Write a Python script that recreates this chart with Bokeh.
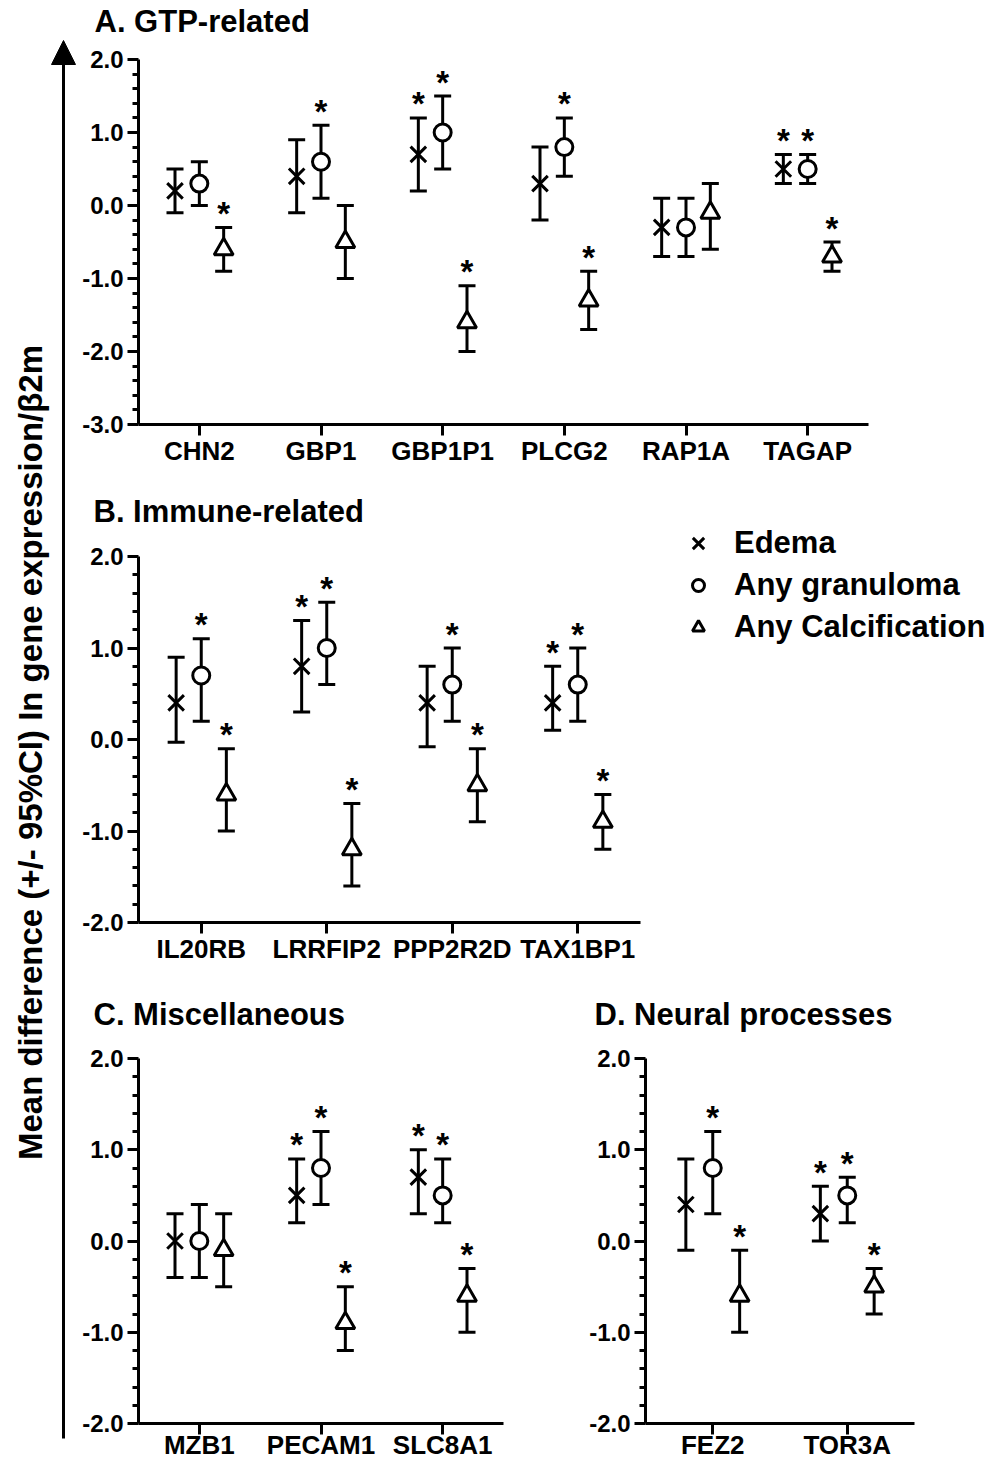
import math
from bokeh.plotting import figure
from bokeh.models import (ColumnDataSource, Whisker, TeeHead, FixedTicker, Range1d,
                          Label, Legend, LegendItem, Arrow, NormalHead, NumeralTickFormatter)
from bokeh.layouts import row, column
from bokeh.embed import file_html
from bokeh.resources import INLINE
from bokeh.core.properties import value

FONT = "Liberation Sans"

# ---------------- data ----------------
series_names = ["Edema", "Any granuloma", "Any Calcification"]

A_genes = ["CHN2", "GBP1", "GBP1P1", "PLCG2", "RAP1A", "TAGAP"]
A_edema_mean = [0.2, 0.4, 0.7, 0.3, -0.3, 0.5]
A_edema_lo = [-0.1, -0.1, 0.2, -0.2, -0.7, 0.3]
A_edema_hi = [0.5, 0.9, 1.2, 0.8, 0.1, 0.7]
A_edema_sig = [0, 0, 1, 0, 0, 1]
A_gran_mean = [0.3, 0.6, 1.0, 0.8, -0.3, 0.5]
A_gran_lo = [0.0, 0.1, 0.5, 0.4, -0.7, 0.3]
A_gran_hi = [0.6, 1.1, 1.5, 1.2, 0.1, 0.7]
A_gran_sig = [0, 1, 1, 1, 0, 1]
A_calc_mean = [-0.6, -0.5, -1.6, -1.3, -0.1, -0.7]
A_calc_lo = [-0.9, -1.0, -2.0, -1.7, -0.6, -0.9]
A_calc_hi = [-0.3, 0.0, -1.1, -0.9, 0.3, -0.5]
A_calc_sig = [1, 0, 1, 1, 0, 1]

B_genes = ["IL20RB", "LRRFIP2", "PPP2R2D", "TAX1BP1"]
B_edema_mean = [0.4, 0.8, 0.4, 0.4]
B_edema_lo = [-0.03, 0.3, -0.08, 0.1]
B_edema_hi = [0.9, 1.3, 0.8, 0.8]
B_edema_sig = [0, 1, 0, 1]
B_gran_mean = [0.7, 1.0, 0.6, 0.6]
B_gran_lo = [0.2, 0.6, 0.2, 0.2]
B_gran_hi = [1.1, 1.5, 1.0, 1.0]
B_gran_sig = [1, 1, 1, 1]
B_calc_mean = [-0.6, -1.2, -0.5, -0.9]
B_calc_lo = [-1.0, -1.6, -0.9, -1.2]
B_calc_hi = [-0.1, -0.7, -0.1, -0.6]
B_calc_sig = [1, 1, 1, 1]

C_genes = ["MZB1", "PECAM1", "SLC8A1"]
C_edema_mean = [0.0, 0.5, 0.7]
C_edema_lo = [-0.4, 0.2, 0.3]
C_edema_hi = [0.3, 0.9, 1.0]
C_edema_sig = [0, 1, 1]
C_gran_mean = [0.0, 0.8, 0.5]
C_gran_lo = [-0.4, 0.4, 0.2]
C_gran_hi = [0.4, 1.2, 0.9]
C_gran_sig = [0, 1, 1]
C_calc_mean = [-0.1, -0.9, -0.6]
C_calc_lo = [-0.5, -1.2, -1.0]
C_calc_hi = [0.3, -0.5, -0.3]
C_calc_sig = [0, 1, 1]

D_genes = ["FEZ2", "TOR3A"]
D_edema_mean = [0.4, 0.3]
D_edema_lo = [-0.1, 0.0]
D_edema_hi = [0.9, 0.6]
D_edema_sig = [0, 1]
D_gran_mean = [0.8, 0.5]
D_gran_lo = [0.3, 0.2]
D_gran_hi = [1.2, 0.7]
D_gran_sig = [1, 1]
D_calc_mean = [-0.6, -0.5]
D_calc_lo = [-1.0, -0.8]
D_calc_hi = [-0.1, -0.3]
D_calc_sig = [1, 1]

titles = ["A. GTP-related", "B. Immune-related", "C. Miscellaneous", "D. Neural processes"]
y_label = "Mean difference (+/- 95%CI) In gene expression/\u03b22m"

# ---------------- styles ----------------
MARKERS = ["x", "circle", "triangle"]
MSIZES = [22, 17, 19]
OFFSETS = [-0.2, 0.0, 0.2]
LW = 3
CAP = 17
TITLE_SIZE = "31px"


def blank(width, height):
    f = figure(width=width, height=height, x_range=Range1d(0, width), y_range=Range1d(0, height),
               output_backend="svg", toolbar_location=None, min_border=0)
    f.axis.visible = False
    f.xgrid.visible = False
    f.ygrid.visible = False
    f.outline_line_color = None
    return f


def add_title(f, text, x, y):
    f.add_layout(Label(x=x, y=y, text=text, text_font=FONT, text_font_size=TITLE_SIZE,
                       text_font_style="bold", text_color="black",
                       text_align="left", text_baseline="alphabetic"))


def make_panel(genes, series, ymin, width, height, borders, label_standoff=0):
    left, right, top, bottom = borders
    n = len(genes)
    p = figure(width=width, height=height,
               x_range=Range1d(0.5, n + 0.5), y_range=Range1d(ymin, 2.0),
               output_backend="svg", toolbar_location=None,
               min_border_left=left, min_border_right=right,
               min_border_top=top, min_border_bottom=bottom)
    p.outline_line_color = None
    p.xgrid.visible = False
    p.ygrid.visible = False

    for (mean, lo, hi, sig), marker, msize, off in zip(series, MARKERS, MSIZES, OFFSETS):
        xs = [i + 1 + off for i in range(n)]
        src = ColumnDataSource(dict(x=xs, mean=mean, lo=lo, hi=hi))
        w = Whisker(source=src, base="x", upper="hi", lower="lo", dimension="height",
                    line_width=LW, line_color="black", level="underlay",
                    upper_head=TeeHead(size=CAP, line_width=LW, line_color="black"),
                    lower_head=TeeHead(size=CAP, line_width=LW, line_color="black"))
        p.add_layout(w)
        if marker == "x":
            p.scatter("x", "mean", source=src, marker="x", size=msize,
                      line_width=LW, line_color="black")
        else:
            p.scatter("x", "mean", source=src, marker=marker, size=msize,
                      line_width=LW, line_color="black", fill_color="white")
        sx = [x for x, s in zip(xs, sig) if s]
        sy = [h for h, s in zip(hi, sig) if s]
        p.text(x=sx, y=sy, text=["*"] * len(sx), text_font=value(FONT),
               text_font_style="bold", text_font_size="33px", text_color="black",
               text_align="center", text_baseline="alphabetic", y_offset=-14)

    # x axis
    p.xaxis.ticker = FixedTicker(ticks=list(range(1, n + 1)))
    p.xaxis.major_label_overrides = {i + 1: g for i, g in enumerate(genes)}
    p.xaxis.minor_tick_line_color = None
    p.xaxis.major_tick_out = 11
    p.xaxis.major_tick_in = 0
    p.xaxis.axis_line_width = LW
    p.xaxis.major_tick_line_width = LW
    p.xaxis.axis_line_color = "black"
    p.xaxis.major_tick_line_color = "black"
    p.xaxis.major_label_text_font = FONT
    p.xaxis.major_label_text_font_size = "26px"
    p.xaxis.major_label_text_font_style = "bold"
    p.xaxis.major_label_text_color = "black"
    p.xaxis.major_label_standoff = label_standoff

    # y axis
    majors = list(range(int(ymin), 3))
    nsteps = int(round((2.0 - ymin) / 0.2))
    minors = [round(ymin + 0.2 * k, 1) for k in range(nsteps + 1)]
    minors = [m for m in minors if abs(m - round(m)) > 1e-6]
    p.yaxis.ticker = FixedTicker(ticks=majors, minor_ticks=minors)
    p.yaxis.formatter = NumeralTickFormatter(format="0.0")
    p.yaxis.major_tick_out = 11
    p.yaxis.minor_tick_out = 6
    p.yaxis.major_tick_in = 0
    p.yaxis.minor_tick_in = 0
    p.yaxis.axis_line_width = LW
    p.yaxis.major_tick_line_width = LW
    p.yaxis.minor_tick_line_width = LW
    p.yaxis.axis_line_color = "black"
    p.yaxis.major_tick_line_color = "black"
    p.yaxis.minor_tick_line_color = "black"
    p.yaxis.major_label_text_font = FONT
    p.yaxis.major_label_text_font_size = "24px"
    p.yaxis.major_label_text_font_style = "bold"
    p.yaxis.major_label_text_color = "black"
    p.yaxis.major_label_standoff = 4
    return p


A_series = [(A_edema_mean, A_edema_lo, A_edema_hi, A_edema_sig),
            (A_gran_mean, A_gran_lo, A_gran_hi, A_gran_sig),
            (A_calc_mean, A_calc_lo, A_calc_hi, A_calc_sig)]
B_series = [(B_edema_mean, B_edema_lo, B_edema_hi, B_edema_sig),
            (B_gran_mean, B_gran_lo, B_gran_hi, B_gran_sig),
            (B_calc_mean, B_calc_lo, B_calc_hi, B_calc_sig)]
C_series = [(C_edema_mean, C_edema_lo, C_edema_hi, C_edema_sig),
            (C_gran_mean, C_gran_lo, C_gran_hi, C_gran_sig),
            (C_calc_mean, C_calc_lo, C_calc_hi, C_calc_sig)]
D_series = [(D_edema_mean, D_edema_lo, D_edema_hi, D_edema_sig),
            (D_gran_mean, D_gran_lo, D_gran_hi, D_gran_sig),
            (D_calc_mean, D_calc_lo, D_calc_hi, D_calc_sig)]

# panels
pA = make_panel(A_genes, A_series, -3.0, 925, 436, (58, 136, 13, 58))
pB = make_panel(B_genes, B_series, -2.0, 581, 453, (58, 20, 24, 63))
pC = make_panel(C_genes, C_series, -2.0, 507, 428, (58, 83, 23, 40), label_standoff=-5)
pD = make_panel(D_genes, D_series, -2.0, 418, 428, (58, 90, 23, 40), label_standoff=-5)

# title strips
tA = blank(925, 46)
add_title(tA, titles[0], 15, 25)
tB = blank(581, 50)
add_title(tB, titles[1], 14, 21)
tCD = blank(925, 50)
add_title(tCD, titles[2], 14, 21)
add_title(tCD, titles[3], 515, 21)

# legend panel (glyph renderers mirror panel B's series, kept outside the visible range)
pLeg = figure(width=344, height=503, x_range=Range1d(0, 1), y_range=Range1d(10, 11),
              output_backend="svg", toolbar_location=None, min_border=0)
pLeg.axis.visible = False
pLeg.xgrid.visible = False
pLeg.ygrid.visible = False
pLeg.outline_line_color = None
leg_renderers = []
for (mean, lo, hi, sig), marker, msize in zip(B_series, MARKERS, MSIZES):
    xs = [(i + 1) / (len(mean) + 1) for i in range(len(mean))]
    if marker == "x":
        r = pLeg.scatter(xs, mean, marker="x", size=msize, line_width=LW, line_color="black")
    else:
        r = pLeg.scatter(xs, mean, marker=marker, size=msize, line_width=LW,
                         line_color="black", fill_color="white")
    leg_renderers.append(r)

legend_style = dict(glyph_height=42, label_height=42, spacing=0, padding=0, margin=0,
                    border_line_color=None, background_fill_alpha=0,
                    label_text_font=FONT, label_text_font_size="31px",
                    label_text_font_style="bold", label_text_color="black")
legend_x = Legend(items=[LegendItem(label=series_names[0], renderers=[leg_renderers[0]])],
                  location=(18, 421), glyph_width=40, label_standoff=16, **legend_style)
legend_rest = Legend(items=[LegendItem(label=nm, renderers=[r])
                            for nm, r in zip(series_names[1:], leg_renderers[1:])],
                     location=(23, 337), glyph_width=30, label_standoff=21, **legend_style)
pLeg.add_layout(legend_x)
pLeg.add_layout(legend_rest)

# left strip with arrow and axis title
pL = blank(79, 1463)
pL.add_layout(Arrow(end=NormalHead(size=24, fill_color="black", line_color="black", line_width=1),
                    x_start=63, y_start=25, x_end=63, y_end=1423,
                    line_width=LW, line_color="black"))
pL.add_layout(Label(x=30, y=711, text=y_label, angle=math.pi / 2,
                    text_font=FONT, text_font_size="33px", text_font_style="bold",
                    text_color="black", text_align="center", text_baseline="middle"))

right = column(
    row(tA),
    row(pA),
    row(column(row(tB), row(pB)), column(pLeg)),
    row(tCD),
    row(pC, pD),
)
layout = row(pL, right)

open("out.html", "w").write(file_html(layout, INLINE))
